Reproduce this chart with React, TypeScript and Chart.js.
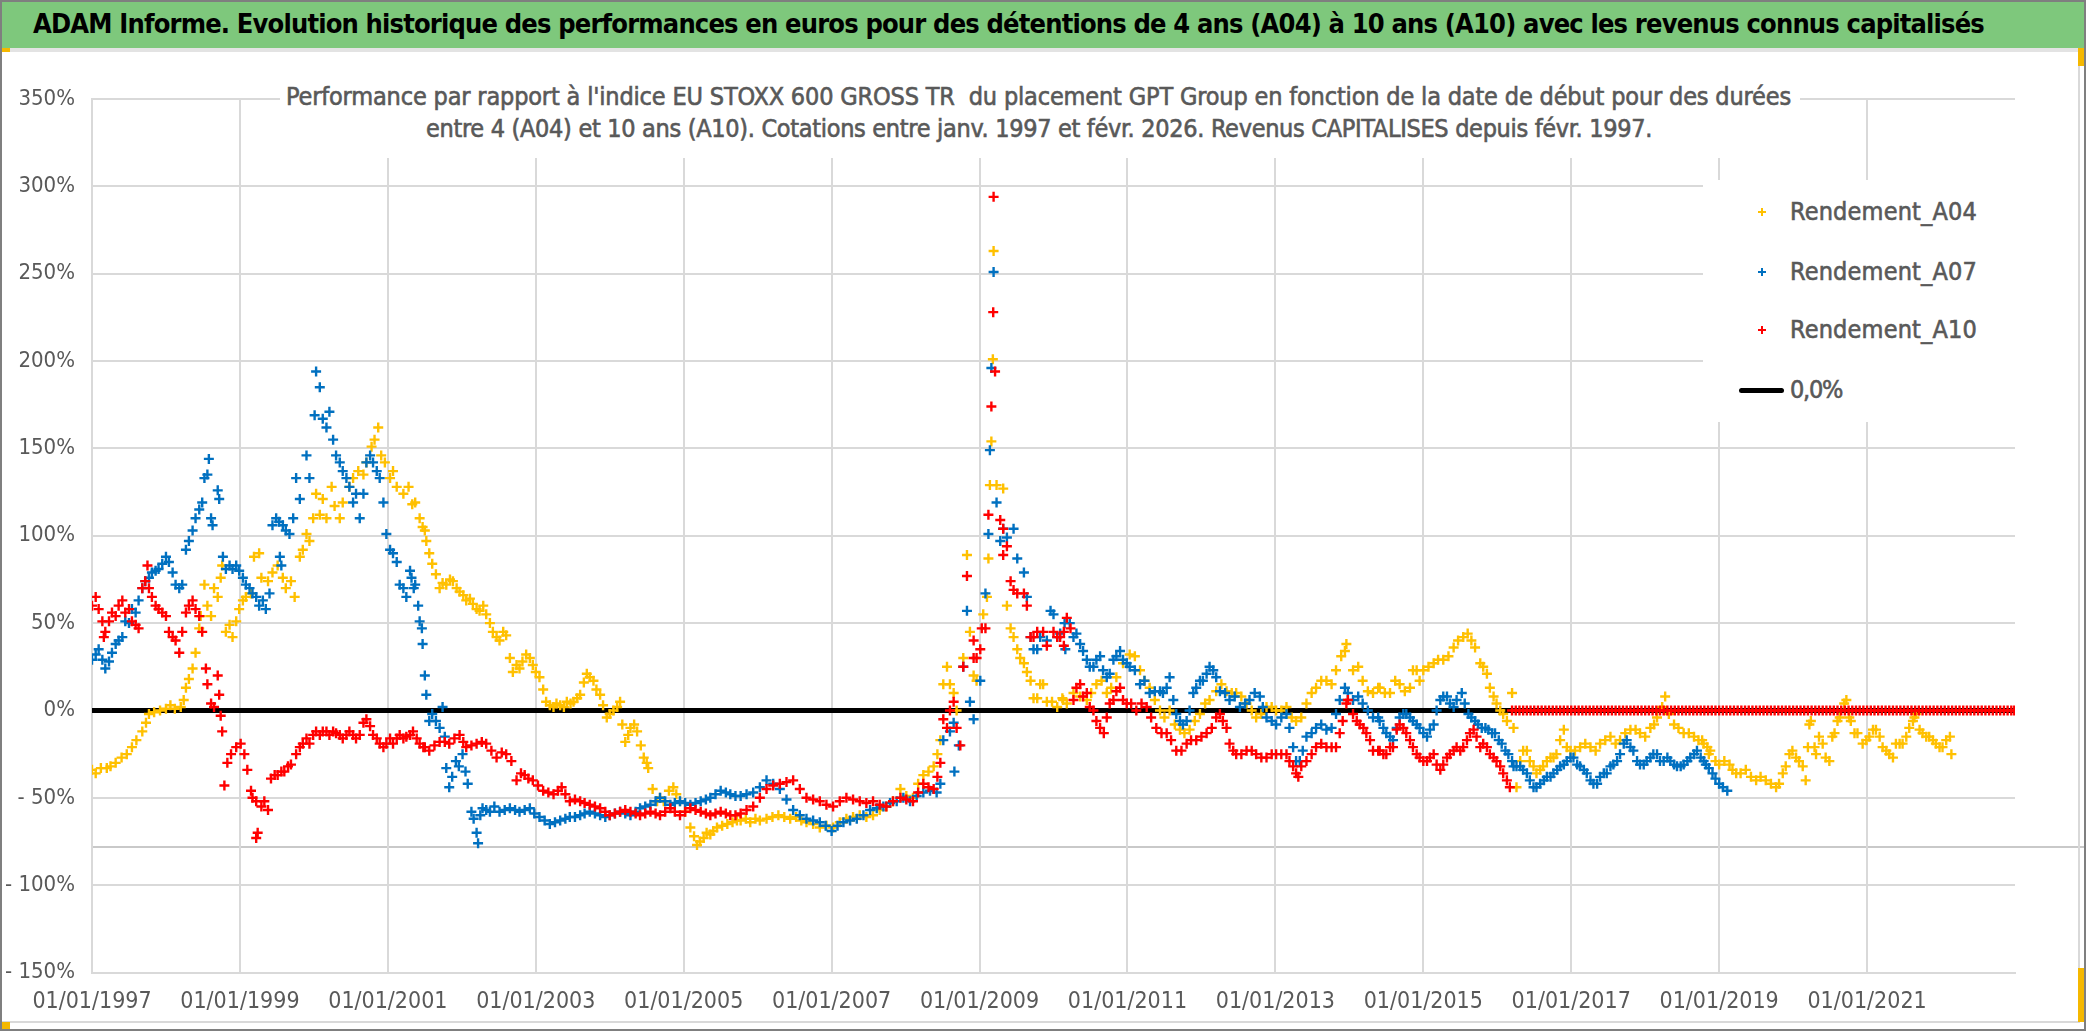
import React, { useEffect, useLayoutEffect, useRef } from 'react';
import { Chart, registerables } from 'chart.js';

Chart.register(...registerables);

// ---------- texts ----------
const TITLE =
  'ADAM Informe. Evolution historique des performances en euros pour des détentions de 4 ans (A04) à 10 ans (A10) avec les revenus connus capitalisés';
const SUBTITLE_1 =
  "Performance par rapport à l'indice EU STOXX 600 GROSS TR  du placement GPT Group en fonction de la date de début pour des durées";
const SUBTITLE_2 =
  'entre 4 (A04) et 10 ans (A10). Cotations entre janv. 1997 et févr. 2026. Revenus CAPITALISES depuis févr. 1997.';

// ---------- axes ----------
const X_MIN = 1997;
const X_MAX = 2023;
const X_TICKS = [1997, 1999, 2001, 2003, 2005, 2007, 2009, 2011, 2013, 2015, 2017, 2019, 2021];
const Y_TICKS = [-150, -100, -50, 0, 50, 100, 150, 200, 250, 300, 350];

// ---------- series ----------
const SERIES_LABELS = ['Rendement_A04', 'Rendement_A07', 'Rendement_A10', '0,0%'];
const SERIES_COLORS = ['#FFC000', '#0070C0', '#FF0000', '#000000'];

// [start date (decimal year), performance %]
const A04_POINTS: [number, number][] = [
  [1997.00,-34],[1997.05,-36],[1997.12,-33],[1997.20,-33],[1997.25,-32],[1997.32,-30],[1997.40,-27],[1997.47,-25],[1997.54,-21],
  [1997.60,-17],[1997.68,-12],[1997.73,-7],[1997.77,-2],[1997.84,-1],[1997.92,0],[1998.00,1],[1998.06,3],[1998.12,1],[1998.20,2],
  [1998.24,6],[1998.27,13],[1998.31,18],[1998.36,24],[1998.40,33],[1998.45,47],[1998.47,54],[1998.52,72],[1998.56,60],[1998.61,54],
  [1998.65,70],[1998.70,65],[1998.74,76],[1998.76,83],[1998.81,45],[1998.86,49],[1998.90,42],[1998.95,51],[1998.99,58],[1999.04,63],
  [1999.08,65],[1999.15,67],[1999.19,88],[1999.26,90],[1999.29,76],[1999.38,74],[1999.44,79],[1999.51,83],[1999.58,76],[1999.62,70],
  [1999.69,74],[1999.74,65],[1999.81,88],[1999.85,92],[1999.90,101],[1999.94,97],[1999.99,110],[2000.03,124],[2000.08,112],
  [2000.12,121],[2000.17,110],[2000.24,128],[2000.28,117],[2000.35,110],[2000.39,119],[2000.48,128],[2000.53,133],[2000.60,137],
  [2000.67,135],[2000.71,142],[2000.78,151],[2000.82,155],[2000.87,162],[2000.91,146],[2000.96,142],[2001.03,133],[2001.07,137],
  [2001.12,128],[2001.21,124],[2001.28,128],[2001.33,118],[2001.37,119],[2001.43,110],[2001.47,105],[2001.50,103],
  [2001.52,97],[2001.56,90],[2001.60,84],[2001.65,78],[2001.70,70],[2001.74,73],[2001.79,72],[2001.84,75],[2001.88,74],[2001.93,70],
  [2001.97,68],[2002.02,66],[2002.06,63],[2002.11,64],[2002.15,61],[2002.20,58],[2002.24,57],[2002.29,60],[2002.33,55],[2002.38,50],
  [2002.42,45],[2002.47,42],[2002.51,40],[2002.56,45],[2002.60,43],[2002.65,30],[2002.69,22],[2002.74,26],[2002.78,24],[2002.82,28],
  [2002.87,32],[2002.92,30],[2002.96,26],[2003.00,22],[2003.05,19],[2003.10,12],[2003.14,5],[2003.19,3],[2003.24,2],[2003.28,4],
  [2003.33,3],[2003.38,2],[2003.42,5],[2003.47,4],[2003.51,5],[2003.56,7],[2003.60,9],[2003.65,16],[2003.69,21],[2003.73,19],
  [2003.78,17],[2003.82,12],[2003.87,9],[2003.91,3],[2003.96,-4],[2004.00,-2],[2004.05,0],[2004.10,2],[2004.14,5],[2004.17,-8],
  [2004.21,-18],[2004.25,-14],[2004.28,-10],[2004.33,-8],[2004.37,-12],[2004.42,-20],[2004.46,-27],[2004.50,-30],[2004.52,-33],
  [2004.58,-45],[2004.64,-52],[2004.68,-50],[2004.73,-52],[2004.80,-46],[2004.86,-44],[2004.90,-48],[2004.95,-52],[2005.02,-58],
  [2005.09,-67],[2005.14,-72],[2005.18,-77],[2005.22,-75],[2005.27,-73],[2005.31,-70],[2005.36,-71],[2005.40,-69],[2005.45,-67],
  [2005.52,-66],[2005.59,-65],[2005.66,-64],[2005.72,-63],[2005.77,-63],[2005.84,-62],[2005.90,-64],[2005.97,-62],[2006.03,-63],
  [2006.12,-62],[2006.20,-61],[2006.28,-60],[2006.36,-61],[2006.44,-62],[2006.52,-61],[2006.59,-63],[2006.66,-64],[2006.75,-65],
  [2006.84,-67],[2006.93,-66],[2007.02,-67],[2007.11,-64],[2007.20,-62],[2007.29,-61],[2007.38,-60],[2007.47,-61],[2007.56,-60],
  [2007.65,-57],[2007.74,-55],[2007.83,-52],[2007.93,-45],[2008.01,-49],[2008.10,-50],[2008.17,-42],[2008.24,-37],[2008.31,-35],
  [2008.38,-32],[2008.43,-25],[2008.47,-17],[2008.51,15],[2008.56,25],[2008.60,15],[2008.65,10],[2008.69,0],[2008.78,30],[2008.83,89],
  [2008.87,45],[2008.92,20],[2008.96,17],[2009.05,55],[2009.10,65],[2009.12,87],[2009.14,129],[2009.16,154],[2009.18,201],
  [2009.19,263],[2009.23,129],[2009.32,127],[2009.37,60],[2009.42,47],[2009.46,42],[2009.51,35],[2009.55,30],[2009.60,27],
  [2009.64,22],[2009.69,17],[2009.73,7],[2009.78,7],[2009.82,15],[2009.86,15],[2009.91,5],[2009.98,5],[2010.05,2],[2010.12,7],
  [2010.13,6],[2010.18,4],[2010.27,10],[2010.36,8],[2010.45,6],[2010.51,10],[2010.58,15],[2010.65,17],[2010.72,10],[2010.78,13],
  [2010.85,19],[2010.94,27],[2011.03,32],[2011.10,31],[2011.17,23],[2011.23,17],[2011.30,13],[2011.37,6],[2011.44,0],[2011.50,-4],
  [2011.57,0],[2011.64,-8],[2011.71,-11],[2011.77,-13],[2011.84,-11],[2011.91,-6],[2011.98,-2],[2012.05,4],[2012.11,6],[2012.20,11],
  [2012.27,15],[2012.34,11],[2012.41,10],[2012.47,10],[2012.54,8],[2012.61,4],[2012.68,0],[2012.74,-4],[2012.81,-2],[2012.88,2],
  [2012.95,2],[2013.01,0],[2013.08,0],[2013.15,2],[2013.22,-4],[2013.28,-6],[2013.35,-4],[2013.42,4],[2013.49,10],[2013.55,13],
  [2013.62,17],[2013.69,17],[2013.76,15],[2013.82,23],[2013.89,31],[2013.94,34],[2013.96,38],[2014.05,23],[2014.12,25],[2014.18,17],
  [2014.25,11],[2014.32,10],[2014.39,13],[2014.41,13],[2014.48,10],[2014.55,10],[2014.62,17],[2014.68,15],[2014.75,11],[2014.82,13],
  [2014.86,23],[2014.91,23],[2014.95,17],[2015.00,23],[2015.07,25],[2015.14,27],[2015.20,29],[2015.27,29],[2015.34,31],[2015.41,36],
  [2015.47,40],[2015.54,42],[2015.60,44],[2015.65,40],[2015.70,36],[2015.77,27],[2015.81,25],[2015.86,21],[2015.90,13],[2015.95,8],
  [2015.99,4],[2016.04,0],[2016.08,-2],[2016.13,-6],[2016.20,10],[2016.22,-10],[2016.26,-44],[2016.31,-29],[2016.35,-23],[2016.40,-23],
  [2016.44,-29],[2016.49,-32],[2016.53,-36],[2016.58,-34],[2016.62,-32],[2016.67,-29],[2016.72,-27],[2016.76,-27],[2016.80,-25],
  [2016.85,-17],[2016.90,-11],[2016.94,-21],[2016.99,-23],[2017.05,-23],[2017.12,-21],[2017.19,-19],[2017.26,-21],[2017.33,-23],
  [2017.39,-19],[2017.46,-17],[2017.53,-15],[2017.60,-19],[2017.66,-17],[2017.73,-13],[2017.80,-11],[2017.87,-11],[2017.93,-13],
  [2018.00,-15],[2018.07,-10],[2018.12,-8],[2018.16,-4],[2018.23,2],[2018.27,8],[2018.32,-2],[2018.39,-8],[2018.45,-10],[2018.52,-13],
  [2018.59,-13],[2018.66,-15],[2018.72,-17],[2018.77,-17],[2018.79,-19],[2018.84,-21],[2018.86,-25],[2018.88,-23],[2018.95,-29],
  [2019.00,-31],[2019.07,-29],[2019.14,-31],[2019.18,-34],[2019.23,-36],[2019.29,-36],[2019.36,-34],[2019.43,-38],[2019.50,-40],
  [2019.56,-38],[2019.63,-40],[2019.70,-42],[2019.77,-44],[2019.81,-42],[2019.86,-36],[2019.90,-32],[2019.95,-25],[2019.99,-23],
  [2020.04,-27],[2020.08,-29],[2020.13,-32],[2020.17,-40],[2020.20,-21],[2020.22,-8],[2020.24,-6],[2020.29,-21],[2020.31,-25],
  [2020.35,-15],[2020.40,-19],[2020.44,-27],[2020.49,-29],[2020.53,-15],[2020.56,-13],[2020.60,-6],[2020.63,-4],[2020.69,4],
  [2020.72,6],[2020.76,-4],[2020.78,-6],[2020.83,-13],[2020.87,-13],[2020.94,-19],[2020.99,-17],[2021.03,-15],[2021.08,-11],
  [2021.12,-11],[2021.17,-15],[2021.21,-21],[2021.26,-23],[2021.30,-25],[2021.35,-27],[2021.39,-19],[2021.44,-19],[2021.48,-19],
  [2021.53,-15],[2021.57,-10],[2021.62,-6],[2021.64,-4],[2021.66,-2],[2021.71,-11],[2021.75,-13],[2021.80,-15],[2021.84,-15],
  [2021.89,-17],[2021.93,-19],[2021.98,-21],[2022.02,-21],[2022.07,-17],[2022.12,-15],[2022.14,-25],
];

const A07_POINTS: [number, number][] = [
  [1997.00,29],[1997.05,32],[1997.09,35],[1997.14,29],[1997.18,24],[1997.23,28],[1997.27,33],[1997.32,38],[1997.36,40],[1997.41,42],
  [1997.45,51],[1997.50,50],[1997.54,58],[1997.59,56],[1997.63,63],[1997.68,70],[1997.72,74],[1997.77,76],[1997.81,79],[1997.86,80],
  [1997.90,81],[1997.95,84],[1998.00,88],[1998.04,85],[1998.09,79],[1998.13,72],[1998.18,70],[1998.22,72],[1998.27,92],[1998.31,97],
  [1998.36,103],[1998.40,110],[1998.45,115],[1998.49,119],[1998.52,133],[1998.56,135],[1998.58,144],[1998.61,110],[1998.63,106],
  [1998.70,126],[1998.72,121],[1998.77,88],[1998.81,81],[1998.86,83],[1998.90,81],[1998.95,83],[1998.99,80],[1999.04,76],[1999.08,72],
  [1999.13,70],[1999.17,67],[1999.22,65],[1999.26,60],[1999.31,63],[1999.35,58],[1999.40,67],[1999.44,106],[1999.49,110],[1999.53,108],
  [1999.54,88],[1999.56,83],[1999.58,106],[1999.62,103],[1999.67,101],[1999.72,110],[1999.76,133],[1999.81,121],[1999.90,146],
  [1999.94,133],[2000.01,169],[2000.03,194],[2000.08,185],[2000.12,167],[2000.17,162],[2000.21,171],[2000.26,155],[2000.30,146],
  [2000.35,142],[2000.39,137],[2000.44,133],[2000.48,128],[2000.53,119],[2000.57,124],[2000.62,110],[2000.67,124],[2000.71,142],
  [2000.76,146],[2000.80,142],[2000.85,137],[2000.89,133],[2000.94,119],[2000.98,101],[2001.03,92],[2001.07,90],[2001.12,85],
  [2001.16,72],[2001.21,70],[2001.25,65],[2001.30,80],[2001.32,76],[2001.35,70],[2001.37,72],[2001.41,60],[2001.43,51],[2001.46,47],
  [2001.47,38],[2001.50,20],
  [2001.52,9],[2001.56,-6],[2001.60,-2],[2001.65,-6],[2001.70,-10],[2001.74,2],[2001.77,-15],[2001.79,-33],[2001.83,-44],[2001.87,-38],
  [2001.92,-29],[2001.96,-32],[2002.01,-25],[2002.05,-35],[2002.08,-42],[2002.13,-58],[2002.16,-62],[2002.20,-70],[2002.22,-76],
  [2002.25,-60],[2002.28,-56],[2002.33,-57],[2002.38,-58],[2002.44,-55],[2002.51,-58],[2002.58,-57],[2002.65,-56],[2002.72,-57],
  [2002.78,-58],[2002.85,-57],[2002.92,-56],[2002.98,-59],[2003.05,-61],[2003.12,-63],[2003.19,-65],[2003.26,-64],[2003.33,-63],
  [2003.40,-62],[2003.46,-61],[2003.53,-61],[2003.60,-60],[2003.66,-59],[2003.73,-58],[2003.80,-59],[2003.87,-60],[2003.94,-61],
  [2004.00,-60],[2004.07,-59],[2004.14,-58],[2004.21,-59],[2004.28,-60],[2004.35,-58],[2004.41,-56],[2004.48,-55],[2004.55,-54],
  [2004.62,-52],[2004.68,-50],[2004.75,-52],[2004.82,-54],[2004.88,-53],[2004.95,-52],[2005.02,-53],[2005.09,-54],[2005.16,-53],
  [2005.23,-52],[2005.30,-51],[2005.36,-50],[2005.43,-48],[2005.50,-46],[2005.57,-47],[2005.63,-48],[2005.70,-49],[2005.77,-49],
  [2005.85,-48],[2005.94,-47],[2006.03,-44],[2006.12,-40],[2006.21,-42],[2006.30,-45],[2006.39,-51],[2006.48,-57],[2006.57,-60],
  [2006.66,-62],[2006.75,-63],[2006.84,-64],[2006.92,-66],[2007.00,-69],[2007.08,-66],[2007.16,-64],[2007.25,-63],[2007.34,-62],
  [2007.43,-60],[2007.52,-57],[2007.61,-56],[2007.70,-55],[2007.79,-53],[2007.88,-52],[2007.97,-50],[2008.06,-52],[2008.15,-49],
  [2008.24,-47],[2008.33,-46],[2008.42,-47],[2008.47,-42],[2008.51,-17],[2008.60,-12],[2008.65,-7],[2008.66,-35],[2008.72,-20],
  [2008.78,25],[2008.83,57],[2008.87,5],[2008.92,-5],[2009.01,17],[2009.08,67],[2009.12,101],[2009.14,149],[2009.16,196],
  [2009.19,251],[2009.23,119],[2009.28,97],[2009.32,104],[2009.37,99],[2009.46,104],[2009.51,87],[2009.60,79],[2009.64,65],
  [2009.69,42],[2009.73,35],[2009.78,35],[2009.82,42],[2009.91,40],[2009.96,57],[2010.00,55],[2010.05,42],[2010.09,44],[2010.15,50],
  [2010.16,35],[2010.22,50],[2010.27,42],[2010.31,44],[2010.36,38],[2010.40,34],[2010.45,29],[2010.49,25],[2010.54,25],[2010.58,29],
  [2010.63,31],[2010.67,23],[2010.72,19],[2010.76,21],[2010.81,29],[2010.85,31],[2010.90,34],[2010.94,29],[2010.99,27],[2011.03,25],
  [2011.10,23],[2011.17,15],[2011.23,17],[2011.30,10],[2011.37,11],[2011.44,11],[2011.48,10],[2011.53,13],[2011.57,19],[2011.62,6],
  [2011.66,-2],[2011.71,-6],[2011.75,-8],[2011.80,-6],[2011.84,0],[2011.89,10],[2011.93,13],[2011.98,17],[2012.02,17],[2012.07,21],
  [2012.11,25],[2012.16,23],[2012.20,19],[2012.25,11],[2012.32,10],[2012.38,6],[2012.45,8],[2012.52,2],[2012.59,4],[2012.65,6],
  [2012.72,10],[2012.79,8],[2012.83,2],[2012.88,-4],[2012.95,-6],[2013.01,-8],[2013.08,-4],[2013.15,-2],[2013.19,-10],[2013.24,-21],
  [2013.28,-29],[2013.33,-29],[2013.37,-23],[2013.42,-15],[2013.49,-13],[2013.55,-10],[2013.62,-8],[2013.69,-11],[2013.76,-10],
  [2013.82,-2],[2013.87,6],[2013.94,13],[2013.98,10],[2014.05,6],[2014.12,8],[2014.18,4],[2014.25,0],[2014.32,-4],[2014.39,-4],
  [2014.41,-6],[2014.46,-10],[2014.50,-13],[2014.55,-15],[2014.59,-17],[2014.64,-10],[2014.68,-4],[2014.73,-2],[2014.77,-2],
  [2014.82,-4],[2014.86,-6],[2014.91,-8],[2014.95,-10],[2015.00,-13],[2015.05,-15],[2015.09,-11],[2015.14,-8],[2015.18,0],[2015.23,6],
  [2015.27,8],[2015.32,8],[2015.36,4],[2015.41,2],[2015.45,6],[2015.52,10],[2015.56,4],[2015.61,-2],[2015.65,-4],[2015.70,-6],
  [2015.74,-8],[2015.79,-10],[2015.84,-10],[2015.88,-11],[2015.93,-13],[2015.97,-13],[2016.02,-17],[2016.06,-19],[2016.11,-23],
  [2016.15,-25],[2016.20,-29],[2016.22,-32],[2016.26,-32],[2016.31,-32],[2016.35,-34],[2016.40,-36],[2016.44,-40],[2016.49,-44],
  [2016.53,-44],[2016.58,-42],[2016.63,-40],[2016.67,-38],[2016.72,-38],[2016.76,-36],[2016.81,-34],[2016.85,-32],[2016.90,-31],
  [2016.94,-29],[2016.99,-27],[2017.03,-27],[2017.08,-31],[2017.12,-32],[2017.17,-34],[2017.21,-36],[2017.26,-40],[2017.30,-42],
  [2017.35,-42],[2017.39,-38],[2017.44,-36],[2017.48,-36],[2017.53,-32],[2017.57,-31],[2017.62,-29],[2017.66,-25],[2017.71,-19],
  [2017.75,-17],[2017.80,-21],[2017.84,-23],[2017.89,-29],[2017.93,-31],[2017.98,-31],[2018.02,-29],[2018.07,-27],[2018.11,-25],
  [2018.16,-25],[2018.20,-29],[2018.25,-29],[2018.30,-27],[2018.34,-29],[2018.39,-31],[2018.43,-32],[2018.48,-32],[2018.52,-31],
  [2018.57,-29],[2018.61,-27],[2018.66,-25],[2018.70,-23],[2018.75,-27],[2018.79,-29],[2018.82,-31],[2018.86,-33],[2018.91,-36],
  [2018.95,-39],[2019.00,-42],[2019.05,-44],[2019.11,-46],
];

const A10_POINTS: [number, number][] = [
  [1997.00,60],[1997.05,65],[1997.09,58],[1997.14,51],[1997.16,42],[1997.18,45],[1997.23,51],[1997.27,56],[1997.32,54],[1997.36,60],
  [1997.41,63],[1997.45,56],[1997.50,58],[1997.54,51],[1997.59,49],[1997.63,47],[1997.68,70],[1997.72,74],[1997.75,83],[1997.77,70],
  [1997.81,65],[1997.86,60],[1997.90,58],[1997.95,56],[1998.00,54],[1998.04,45],[1998.09,42],[1998.13,40],[1998.18,33],[1998.22,45],
  [1998.27,56],[1998.31,60],[1998.36,63],[1998.40,58],[1998.45,54],[1998.49,45],[1998.54,24],[1998.56,15],[1998.61,4],[1998.65,2],
  [1998.70,20],[1998.72,9],[1998.74,-3],[1998.76,-12],[1998.79,-43],[1998.83,-30],[1998.88,-25],[1998.95,-21],[1999.01,-19],
  [1999.06,-25],[1999.10,-34],[1999.15,-46],[1999.17,-50],[1999.22,-52],[1999.22,-73],[1999.24,-70],[1999.29,-55],[1999.33,-52],
  [1999.38,-57],[1999.42,-39],[1999.47,-37],[1999.51,-37],[1999.56,-35],[1999.60,-35],[1999.65,-32],[1999.69,-31],[1999.76,-25],
  [1999.81,-21],[1999.85,-19],[1999.90,-16],[1999.94,-19],[1999.99,-14],[2000.03,-12],[2000.08,-14],[2000.12,-12],[2000.17,-12],
  [2000.21,-14],[2000.26,-12],[2000.30,-13],[2000.35,-14],[2000.39,-16],[2000.44,-14],[2000.48,-12],[2000.53,-14],[2000.57,-16],
  [2000.62,-14],[2000.67,-7],[2000.71,-5],[2000.76,-9],[2000.80,-14],[2000.85,-16],[2000.89,-19],[2000.94,-21],[2000.98,-19],
  [2001.03,-16],[2001.07,-19],[2001.12,-16],[2001.16,-14],[2001.21,-16],[2001.25,-15],[2001.30,-14],[2001.34,-12],[2001.39,-16],
  [2001.43,-19],[2001.48,-21],
  [2001.50,-21],[2001.56,-23],[2001.63,-20],[2001.70,-18],[2001.77,-18],[2001.83,-19],[2001.90,-16],
  [2001.97,-14],[2002.02,-18],[2002.06,-21],[2002.13,-20],[2002.20,-19],[2002.27,-18],[2002.33,-19],[2002.40,-23],[2002.47,-27],
  [2002.54,-24],[2002.60,-25],[2002.67,-29],[2002.74,-40],[2002.80,-36],[2002.85,-37],[2002.90,-39],[2002.96,-40],[2003.03,-43],
  [2003.10,-46],[2003.17,-47],[2003.24,-48],[2003.30,-46],[2003.35,-44],[2003.40,-48],[2003.46,-52],[2003.53,-51],[2003.60,-52],
  [2003.66,-53],[2003.73,-54],[2003.80,-55],[2003.87,-56],[2003.94,-58],[2004.00,-60],[2004.07,-59],[2004.14,-58],[2004.21,-57],
  [2004.28,-58],[2004.35,-59],[2004.41,-60],[2004.48,-59],[2004.55,-58],[2004.62,-59],[2004.68,-60],[2004.75,-58],[2004.82,-56],
  [2004.88,-58],[2004.95,-60],[2005.02,-58],[2005.09,-56],[2005.16,-57],[2005.23,-58],[2005.30,-59],[2005.36,-60],[2005.43,-59],
  [2005.50,-58],[2005.57,-59],[2005.63,-60],[2005.70,-60],[2005.77,-59],[2005.85,-57],[2005.94,-55],[2006.03,-50],[2006.12,-45],
  [2006.21,-43],[2006.30,-42],[2006.39,-41],[2006.48,-40],[2006.57,-45],[2006.66,-50],[2006.75,-51],[2006.84,-52],[2006.93,-54],
  [2007.02,-55],[2007.11,-52],[2007.20,-50],[2007.29,-51],[2007.38,-52],[2007.47,-53],[2007.56,-52],[2007.65,-54],[2007.74,-55],
  [2007.83,-52],[2007.93,-50],[2008.01,-51],[2008.10,-52],[2008.17,-47],[2008.24,-42],[2008.31,-44],[2008.38,-45],[2008.43,-38],
  [2008.47,-30],[2008.51,-5],[2008.56,-10],[2008.60,0],[2008.65,5],[2008.69,-10],[2008.74,-20],[2008.78,25],[2008.83,77],[2008.92,30],
  [2008.92,40],[2008.96,30],[2009.01,35],[2009.03,47],[2009.08,47],[2009.12,112],[2009.16,174],[2009.185,228],[2009.19,294],
  [2009.21,194],[2009.28,109],[2009.32,104],[2009.32,89],[2009.37,94],[2009.42,74],[2009.46,69],[2009.51,67],[2009.60,67],
  [2009.64,60],[2009.69,42],[2009.73,42],[2009.78,45],[2009.86,45],[2009.91,37],[2010.00,45],[2010.05,42],[2010.09,42],[2010.14,45],
  [2010.14,37],[2010.18,53],[2010.23,47],[2010.27,6],[2010.31,13],[2010.36,15],[2010.40,8],[2010.45,10],[2010.49,2],[2010.54,0],
  [2010.58,-6],[2010.63,-10],[2010.68,-13],[2010.72,-4],[2010.76,4],[2010.81,6],[2010.85,11],[2010.90,13],[2010.94,6],[2010.99,4],
  [2011.05,4],[2011.12,0],[2011.19,4],[2011.26,2],[2011.32,-4],[2011.39,-10],[2011.46,-13],[2011.53,-13],[2011.59,-17],[2011.66,-23],
  [2011.73,-23],[2011.80,-19],[2011.86,-17],[2011.93,-17],[2012.00,-15],[2012.07,-13],[2012.14,-10],[2012.20,-4],[2012.25,-2],
  [2012.29,-6],[2012.34,-10],[2012.38,-19],[2012.43,-23],[2012.47,-25],[2012.54,-25],[2012.61,-23],[2012.68,-23],[2012.74,-25],
  [2012.81,-27],[2012.88,-27],[2012.95,-25],[2013.01,-25],[2013.08,-25],[2013.15,-25],[2013.19,-29],[2013.24,-32],[2013.28,-36],
  [2013.31,-38],[2013.35,-32],[2013.42,-29],[2013.49,-25],[2013.55,-21],[2013.62,-19],[2013.69,-21],[2013.76,-21],[2013.82,-21],
  [2013.87,-13],[2013.91,-6],[2013.96,4],[2013.98,6],[2014.05,-2],[2014.10,-6],[2014.14,-8],[2014.19,-10],[2014.23,-13],[2014.28,-17],
  [2014.32,-23],[2014.39,-23],[2014.41,-23],[2014.46,-25],[2014.50,-25],[2014.55,-21],[2014.59,-21],[2014.64,-11],[2014.68,-8],
  [2014.73,-10],[2014.77,-13],[2014.82,-17],[2014.86,-21],[2014.91,-25],[2014.95,-27],[2015.00,-29],[2015.05,-29],[2015.09,-27],
  [2015.14,-25],[2015.18,-31],[2015.23,-34],[2015.27,-31],[2015.32,-27],[2015.36,-25],[2015.41,-23],[2015.45,-21],[2015.50,-23],
  [2015.54,-21],[2015.59,-17],[2015.63,-13],[2015.68,-11],[2015.72,-15],[2015.77,-21],[2015.81,-19],[2015.86,-21],[2015.90,-25],
  [2015.95,-27],[2015.99,-29],[2016.04,-32],[2016.08,-36],[2016.13,-40],[2016.17,-44],
];

// A10 is 0 for start dates whose 10-year window is not yet complete
const A10_ZERO_DATES: number[] = [
  2016.20,2016.25,2016.30,2016.35,2016.40,2016.45,2016.50,2016.55,2016.60,2016.65,2016.70,2016.75,2016.80,2016.85,2016.90,2016.95,
  2017.00,2017.05,2017.10,2017.15,2017.20,2017.25,2017.30,2017.35,2017.40,2017.45,2017.50,2017.55,2017.60,2017.65,2017.70,2017.75,2017.80,2017.85,2017.90,2017.95,
  2018.00,2018.05,2018.10,2018.15,2018.20,2018.25,2018.30,2018.35,2018.40,2018.45,2018.50,2018.55,2018.60,2018.65,2018.70,2018.75,2018.80,2018.85,2018.90,2018.95,
  2019.00,2019.05,2019.10,2019.15,2019.20,2019.25,2019.30,2019.35,2019.40,2019.45,2019.50,2019.55,2019.60,2019.65,2019.70,2019.75,2019.80,2019.85,2019.90,2019.95,
  2020.00,2020.05,2020.10,2020.15,2020.20,2020.25,2020.30,2020.35,2020.40,2020.45,2020.50,2020.55,2020.60,2020.65,2020.70,2020.75,2020.80,2020.85,2020.90,2020.95,
  2021.00,2021.05,2021.10,2021.15,2021.20,2021.25,2021.30,2021.35,2021.40,2021.45,2021.50,2021.55,2021.60,2021.65,2021.70,2021.75,2021.80,2021.85,2021.90,2021.95,
  2022.00,2022.05,2022.10,2022.15,2022.20,2022.25,2022.30,2022.35,2022.40,2022.45,2022.50,2022.55,2022.60,2022.65,2022.70,2022.75,2022.80,2022.85,2022.90,2022.95,2022.99,
];
const A10_ZERO_VALUE = 0;

// reference line at 0,0%
const ZERO_LINE: [number, number][] = [[X_MIN, 0], [X_MAX, 0]];

// ---------- styling ----------
const NARROW = "'Liberation Sans Narrow', 'DejaVu Sans Condensed', 'Liberation Sans', sans-serif";
const GRAY_TEXT = '#595959';
const GRID = '#d9d9d9';

const W = 2086;
const H = 1031;
const PLOT_LEFT = 92;
const PLOT_RIGHT = 2015;
const PLOT_TOP = 99;
const PLOT_BOTTOM = 972.5;

function FitText(props: {
  text: string;
  left: number;
  top: number;
  width: number;
  size: number;
  weight?: number;
  color?: string;
  stroke?: number;
}) {
  const ref = useRef<HTMLSpanElement>(null);
  useLayoutEffect(() => {
    const el = ref.current;
    if (!el) return;
    el.style.letterSpacing = '0px';
    const w = el.getBoundingClientRect().width;
    const n = props.text.length;
    el.style.letterSpacing = (props.width - w) / n + 'px';
  }, [props.text, props.width, props.size]);
  const color = props.color ?? GRAY_TEXT;
  return (
    <span
      ref={ref}
      style={{
        position: 'absolute',
        left: props.left,
        top: props.top,
        whiteSpace: 'pre',
        fontFamily: NARROW,
        fontSize: props.size,
        lineHeight: `${props.size}px`,
        fontWeight: props.weight ?? 400,
        color,
        WebkitTextStroke: props.stroke ? `${props.stroke}px ${color}` : undefined,
      }}
    >
      {props.text}
    </span>
  );
}

function Cross({ x, y, color }: { x: number; y: number; color: string }) {
  return (
    <>
      <div style={{ position: 'absolute', left: x - 4, top: y - 1, width: 8, height: 2, background: color }} />
      <div style={{ position: 'absolute', left: x - 1, top: y - 4, width: 2, height: 8, background: color }} />
    </>
  );
}

export default function App() {
  const canvasRef = useRef<HTMLCanvasElement>(null);

  useEffect(() => {
    const canvas = canvasRef.current;
    if (!canvas) return;
    const toXY = (pts: [number, number][]) => pts.map(([x, y]) => ({ x, y }));
    const a10 = toXY(A10_POINTS).concat(A10_ZERO_DATES.map((x) => ({ x, y: A10_ZERO_VALUE })));
    const pointCommon = {
      pointStyle: 'cross' as const,
      pointRadius: 5,
      pointHoverRadius: 5,
      borderWidth: 2.4,
      showLine: false,
    };
    const chart = new Chart(canvas, {
      type: 'scatter',
      data: {
        datasets: [
          { label: SERIES_LABELS[0], data: toXY(A04_POINTS), borderColor: SERIES_COLORS[0], backgroundColor: SERIES_COLORS[0], order: 3, ...pointCommon },
          { label: SERIES_LABELS[1], data: toXY(A07_POINTS), borderColor: SERIES_COLORS[1], backgroundColor: SERIES_COLORS[1], order: 2, ...pointCommon },
          { label: SERIES_LABELS[2], data: a10, borderColor: SERIES_COLORS[2], backgroundColor: SERIES_COLORS[2], order: 1, ...pointCommon },
          {
            type: 'line',
            label: SERIES_LABELS[3],
            data: toXY(ZERO_LINE),
            borderColor: SERIES_COLORS[3],
            borderWidth: 5,
            borderCapStyle: 'round',
            pointRadius: 0,
            showLine: true,
            order: 4,
          } as any,
        ],
      },
      options: {
        responsive: false,
        animation: false,
        devicePixelRatio: 1,
        events: [],
        layout: { padding: { left: 0, right: W - PLOT_RIGHT, top: PLOT_TOP, bottom: 0 } },
        plugins: {
          legend: { display: false },
          title: { display: false },
          tooltip: { enabled: false },
        },
        scales: {
          x: {
            type: 'linear',
            min: X_MIN,
            max: X_MAX,
            afterBuildTicks: (s: any) => {
              s.ticks = X_TICKS.map((v) => ({ value: v }));
            },
            afterFit: (s: any) => {
              s.height = H - PLOT_BOTTOM;
            },
            ticks: {
              autoSkip: false,
              maxRotation: 0,
              minRotation: 0,
              padding: 16,
              color: GRAY_TEXT,
              font: { family: NARROW, size: 23 },
              callback: (v: any) => '01/01/' + v,
            },
            grid: { color: GRID, lineWidth: 2, drawTicks: false },
            border: { color: GRID, width: 2 },
          },
          y: {
            type: 'linear',
            min: -150,
            max: 350,
            afterBuildTicks: (s: any) => {
              s.ticks = Y_TICKS.map((v) => ({ value: v }));
            },
            afterFit: (s: any) => {
              s.width = PLOT_LEFT;
            },
            ticks: {
              padding: 17,
              color: GRAY_TEXT,
              font: { family: NARROW, size: 22 },
              callback: (v: any) => (v < 0 ? '- ' + Math.abs(v) : String(v)) + '%',
            },
            grid: { color: GRID, lineWidth: 2, drawTicks: false },
            border: { color: GRID, width: 2 },
          },
        },
      },
    });
    return () => chart.destroy();
  }, []);

  const legendRows = [212, 272, 330, 390];

  return (
    <div
      style={{
        position: 'absolute',
        left: 0,
        top: 0,
        width: W,
        height: H,
        background: '#ffffff',
        overflow: 'hidden',
        fontFamily: NARROW,
      }}
    >
      {/* stray sheet line behind the plot */}
      <div style={{ position: 'absolute', left: PLOT_LEFT, top: 846, width: W - PLOT_LEFT, height: 2, background: '#c9c9c9' }} />
      {/* chart object frame */}
      <div style={{ position: 'absolute', left: 2078, top: 50, width: 2, height: 972, background: GRID }} />
      <div style={{ position: 'absolute', left: 0, top: 1021, width: 2080, height: 2, background: GRID }} />

      <canvas ref={canvasRef} width={W} height={H} style={{ position: 'absolute', left: 0, top: 0, width: W, height: H }} />

      {/* subtitle block */}
      <div style={{ position: 'absolute', left: 280, top: 60, width: 1520, height: 98, background: '#ffffff' }} />
      <FitText text={SUBTITLE_1} left={286} top={84} width={1505} size={25} stroke={0.6} />
      <FitText text={SUBTITLE_2} left={426} top={116} width={1226} size={25} stroke={0.6} />

      {/* legend */}
      <div style={{ position: 'absolute', left: 1703, top: 180, width: 312, height: 242, background: '#ffffff' }} />
      <Cross x={1762} y={legendRows[0]} color={SERIES_COLORS[0]} />
      <Cross x={1762} y={legendRows[1]} color={SERIES_COLORS[1]} />
      <Cross x={1762} y={legendRows[2]} color={SERIES_COLORS[2]} />
      <div style={{ position: 'absolute', left: 1739, top: legendRows[3] - 2.5, width: 45, height: 5, borderRadius: 3, background: SERIES_COLORS[3] }} />
      <FitText text={SERIES_LABELS[0]} left={1790} top={legendRows[0] - 13} width={187} size={25} stroke={0.6} />
      <FitText text={SERIES_LABELS[1]} left={1790} top={legendRows[1] - 13} width={187} size={25} stroke={0.6} />
      <FitText text={SERIES_LABELS[2]} left={1790} top={legendRows[2] - 13} width={187} size={25} stroke={0.6} />
      <FitText text={SERIES_LABELS[3]} left={1790} top={legendRows[3] - 13} width={52} size={25} stroke={0.6} />

      {/* title band */}
      <div style={{ position: 'absolute', left: 0, top: 0, width: W, height: 48, background: '#7ec87c' }} />
      <div style={{ position: 'absolute', left: 0, top: 48, width: W, height: 4, background: '#e3e3e3' }} />
      <FitText text={TITLE} left={33} top={10} width={1951} size={27} weight={700} color="#000000" />

      {/* selection handles */}
      <div style={{ position: 'absolute', left: 0, top: 48, width: 10, height: 4, background: '#f5b800' }} />
      <div style={{ position: 'absolute', left: 2078, top: 48, width: 8, height: 18, background: '#f5b800' }} />
      <div style={{ position: 'absolute', left: 2078, top: 968, width: 8, height: 54, background: '#f5b800' }} />
      <div style={{ position: 'absolute', left: 0, top: 1022, width: 10, height: 8, background: '#f5b800' }} />

      {/* outer border */}
      <div
        style={{
          position: 'absolute',
          left: 0,
          top: 0,
          width: W,
          height: H,
          boxSizing: 'border-box',
          border: '2px solid #7f7f7f',
          pointerEvents: 'none',
        }}
      />
    </div>
  );
}
